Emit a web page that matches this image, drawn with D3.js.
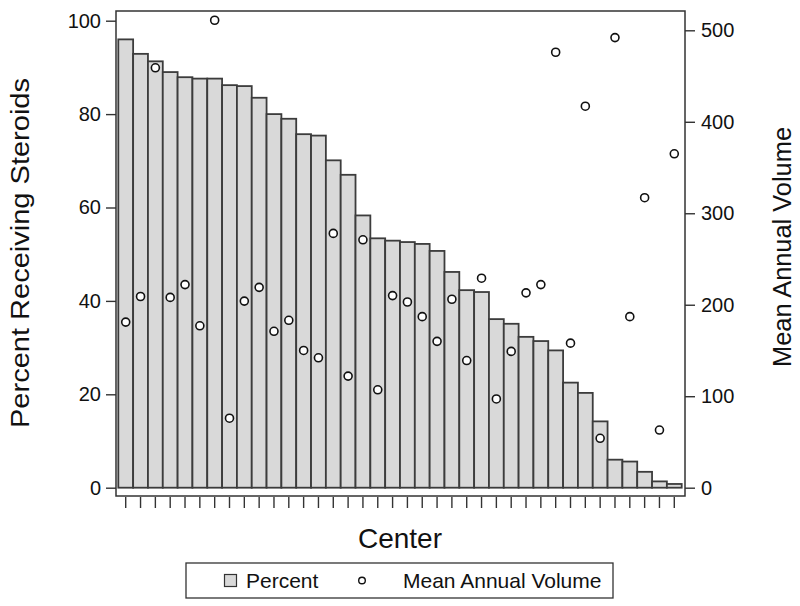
<!DOCTYPE html>
<html>
<head>
  <script src="https://d3js.org/d3.v7.min.js"></script>
  <style>
    * { margin: 0; box-sizing: border-box; }
    body { background: #fff; }
    text { font-family: "Liberation Sans", Arial, sans-serif; fill: #111; }
  </style>
</head>
<body>
  <script>
    // percent of patients receiving steroids, one bar per center (sorted)
    const percent = [96.0, 92.9, 91.3, 89.0, 87.9, 87.6, 87.6, 86.2, 86.0, 83.5,
      80.0, 79.0, 75.7, 75.4, 70.1, 67.0, 58.3, 53.4, 52.9, 52.6,
      52.2, 50.7, 46.2, 42.3, 41.9, 36.1, 35.1, 32.3, 31.4, 29.4,
      22.5, 20.3, 14.2, 6.0, 5.6, 3.4, 1.35, 0.8];
    // mean annual volume per center
    const volume = [181, 209, 459, 208, 222, 177, 511, 76, 204, 219,
      171, 183, 150, 142, 278, 122, 271, 107, 210, 203,
      187, 160, 206, 139, 229, 97, 149, 213, 222, 476,
      158, 417, 54, 492, 187, 317, 63, 365];
    const centers = percent.map((d, i) => i + 1);
    const leftTicks = [0, 20, 40, 60, 80, 100];
    const rightTicks = [0, 100, 200, 300, 400, 500];

    const width = 800, height = 606;
    const svg = d3.select("body").append("svg")
      .attr("width", width)
      .attr("height", height);

    const x = d3.scaleBand().domain(centers).range([118.3, 681.7]).paddingInner(0);
    const yL = d3.scaleLinear().domain([0, 100]).range([487.7, 20.7]);
    const yR = d3.scaleLinear().domain([0, 500]).range([487.7, 30.3]);

    // bars
    svg.append("g").selectAll("rect")
      .data(percent)
      .enter().append("rect")
      .attr("x", (d, i) => x(centers[i]))
      .attr("width", x.bandwidth())
      .attr("y", d => yL(d))
      .attr("height", d => yL(0) - yL(d))
      .attr("fill", "#d9d9d9")
      .attr("stroke", "#3c3c3c")
      .attr("stroke-width", 1.8);

    // points
    svg.append("g").selectAll("circle")
      .data(volume)
      .enter().append("circle")
      .attr("cx", (d, i) => x(centers[i]) + x.bandwidth() / 2)
      .attr("cy", d => yR(d))
      .attr("r", 4)
      .attr("fill", "#fff")
      .attr("stroke", "#111")
      .attr("stroke-width", 1.6);

    // frame
    svg.append("rect")
      .attr("x", 116).attr("y", 11)
      .attr("width", 685 - 116).attr("height", 496 - 11)
      .attr("fill", "none")
      .attr("stroke", "#333")
      .attr("stroke-width", 1.5);

    // left axis
    const left = svg.append("g").attr("transform", "translate(116,0)")
      .call(d3.axisLeft(yL).tickValues(leftTicks).tickSize(10).tickPadding(5));
    // right axis
    const right = svg.append("g").attr("transform", "translate(685,0)")
      .call(d3.axisRight(yR).tickValues(rightTicks).tickSize(10).tickPadding(6));
    // bottom axis (ticks only)
    const bottom = svg.append("g").attr("transform", "translate(0,497)")
      .call(d3.axisBottom(x).tickSize(11).tickFormat(""));

    [left, right, bottom].forEach(g => {
      g.select(".domain").remove();
      g.selectAll(".tick line").attr("stroke", "#333").attr("stroke-width", 1.4);
      g.selectAll(".tick text")
        .style("font-family", '"Liberation Sans", Arial, sans-serif')
        .style("font-size", "20px")
        .attr("fill", "#111");
    });

    // axis titles
    svg.append("text")
      .attr("transform", "translate(29,253) rotate(-90)")
      .attr("text-anchor", "middle")
      .attr("textLength", 350)
      .attr("lengthAdjust", "spacingAndGlyphs")
      .style("font-size", "26px")
      .text("Percent Receiving Steroids");

    svg.append("text")
      .attr("transform", "translate(791,247) rotate(-90)")
      .attr("text-anchor", "middle")
      .attr("textLength", 240)
      .attr("lengthAdjust", "spacingAndGlyphs")
      .style("font-size", "25px")
      .text("Mean Annual Volume");

    svg.append("text")
      .attr("x", 400).attr("y", 548)
      .attr("text-anchor", "middle")
      .style("font-size", "28px")
      .text("Center");

    // legend
    const legend = svg.append("g");
    legend.append("rect")
      .attr("x", 186).attr("y", 563).attr("width", 613 - 186).attr("height", 35)
      .attr("fill", "#fff").attr("stroke", "#333").attr("stroke-width", 1.3);
    legend.append("rect")
      .attr("x", 224.5).attr("y", 574.5).attr("width", 12).attr("height", 12)
      .attr("fill", "#d9d9d9").attr("stroke", "#333").attr("stroke-width", 1.2);
    legend.append("text")
      .attr("x", 246).attr("y", 588)
      .style("font-size", "21px")
      .text("Percent");
    legend.append("circle")
      .attr("cx", 362).attr("cy", 580.5).attr("r", 3.3)
      .attr("fill", "#fff").attr("stroke", "#111").attr("stroke-width", 1.4);
    legend.append("text")
      .attr("x", 403).attr("y", 588)
      .style("font-size", "21px")
      .text("Mean Annual Volume");
  </script>
</body>
</html>
